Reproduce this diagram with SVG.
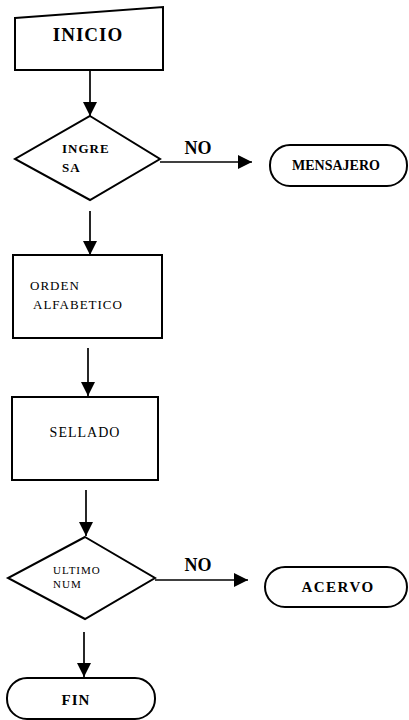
<svg xmlns="http://www.w3.org/2000/svg" width="409" height="720" viewBox="0 0 409 720">
<defs>
<style>
.s{fill:#fff;stroke:#000;stroke-width:2}
.l{fill:none;stroke:#000;stroke-width:1.7}
.b{font-family:"Liberation Serif",serif;font-weight:bold;fill:#000}
.r{font-family:"Liberation Serif",serif;fill:#000}
</style>
<marker id="ah" viewBox="0 0 10 10" refX="10" refY="5" markerWidth="15" markerHeight="14" markerUnits="userSpaceOnUse" orient="auto"><path d="M0,0L10,5L0,10z" fill="#000"/></marker>
</defs>
<rect width="409" height="720" fill="#fff"/>
<g id="connectors">
<line class="l" x1="90" y1="70" x2="90" y2="116" marker-end="url(#ah)"/>
<line class="l" x1="160" y1="162" x2="252" y2="162" marker-end="url(#ah)"/>
<line class="l" x1="90" y1="211" x2="90" y2="255" marker-end="url(#ah)"/>
<line class="l" x1="88" y1="348" x2="88" y2="396" marker-end="url(#ah)"/>
<line class="l" x1="86" y1="490" x2="86" y2="536" marker-end="url(#ah)"/>
<line class="l" x1="155" y1="580" x2="248" y2="580" marker-end="url(#ah)"/>
<line class="l" x1="84" y1="632" x2="84" y2="677" marker-end="url(#ah)"/>
<text class="b" x="198" y="154" font-size="18" text-anchor="middle">NO</text>
<text class="b" x="198" y="571" font-size="18" text-anchor="middle">NO</text>
</g>
<g id="inicio">
<path class="s" d="M15,18L163,7L163,70L15,70z"/>
<text class="b" x="88" y="41" font-size="19" letter-spacing="1" text-anchor="middle">INICIO</text>
</g>
<g id="ingresa">
<path class="s" d="M90,116L160,159L90,200L15,159z"/>
<text class="b" x="62" y="153" font-size="13" letter-spacing="1">INGRE</text>
<text class="b" x="62" y="172" font-size="13" letter-spacing="1">SA</text>
</g>
<g id="mensajero">
<rect class="s" x="270" y="145" width="137" height="41" rx="20"/>
<text class="b" x="336" y="170" font-size="14" text-anchor="middle">MENSAJERO</text>
</g>
<g id="orden">
<rect class="s" x="13" y="255" width="149" height="83"/>
<text class="r" x="30" y="290" font-size="13" letter-spacing="1">ORDEN</text>
<text class="r" x="33" y="309" font-size="13" letter-spacing="1">ALFABETICO</text>
</g>
<g id="sellado">
<rect class="s" x="12" y="397" width="146" height="83"/>
<text class="r" x="85" y="437" font-size="14" letter-spacing="1" text-anchor="middle">SELLADO</text>
</g>
<g id="ultimo">
<path class="s" d="M85,537L155,578L85,619L8,578z"/>
<text class="r" x="53" y="574" font-size="11" letter-spacing="1">ULTIMO</text>
<text class="r" x="53" y="588" font-size="11" letter-spacing="1">NUM</text>
</g>
<g id="acervo">
<rect class="s" x="265" y="567" width="142" height="40" rx="20"/>
<text class="b" x="338" y="592" font-size="15" letter-spacing="1.5" text-anchor="middle">ACERVO</text>
</g>
<g id="fin">
<rect class="s" x="7" y="678" width="148" height="41" rx="20"/>
<text class="b" x="76" y="705" font-size="15" letter-spacing="1" text-anchor="middle">FIN</text>
</g>
</svg>
